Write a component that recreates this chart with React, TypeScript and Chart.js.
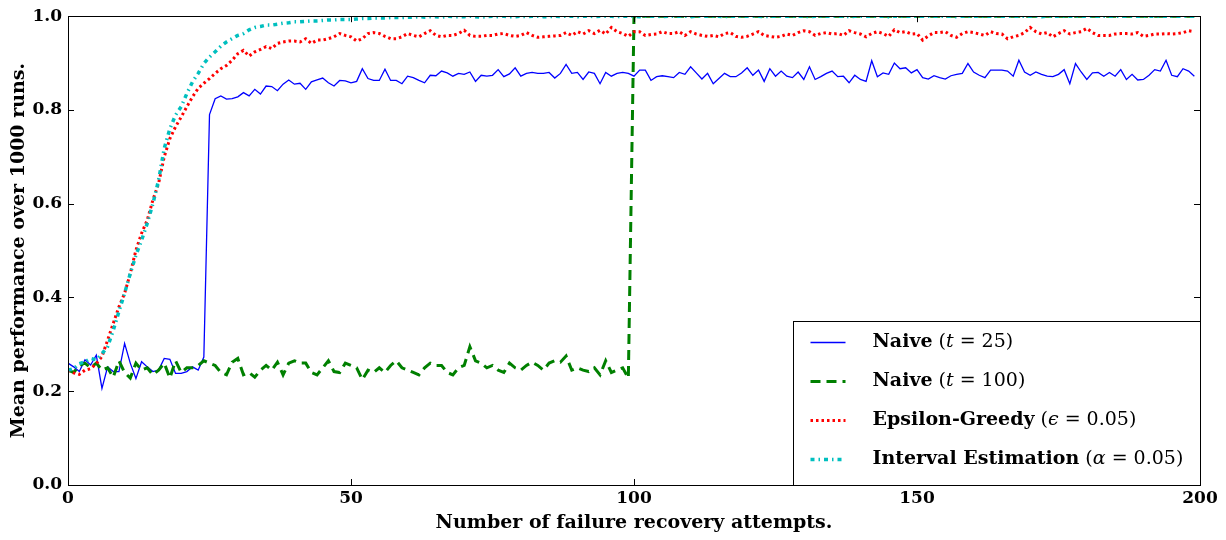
import { useEffect, useRef } from "react";
import { Chart, registerables } from "chart.js";

Chart.register(...registerables);

// ---------- data ----------
const X_TICKS = [0, 50, 100, 150, 200];
const Y_TICKS = [0, 0.2, 0.4, 0.6, 0.8, 1.0];

const X_TITLE = "Number of failure recovery attempts.";
const Y_TITLE = "Mean performance over 1000 runs.";

const SERIES_NAMES = ["Naive", "Naive", "Epsilon-Greedy", "Interval Estimation"];
const SERIES_SYMBOLS = ["t", "t", "\u03F5", "\u03B1"];
const SERIES_PARAMS = ["25", "100", "0.05", "0.05"];

const NAIVE_25 = [
  0.26, 0.252, 0.242, 0.267, 0.256, 0.277, 0.206, 0.252, 0.242, 0.242,
  0.302, 0.26, 0.227, 0.263, 0.252, 0.242, 0.245, 0.27, 0.268, 0.238,
  0.238, 0.242, 0.252, 0.245, 0.273, 0.79, 0.824, 0.83, 0.823, 0.824,
  0.828, 0.837, 0.83, 0.844, 0.834, 0.851, 0.85, 0.841, 0.855, 0.864,
  0.855, 0.857, 0.844, 0.86, 0.864, 0.868, 0.858, 0.851, 0.863, 0.862,
  0.858, 0.861, 0.888, 0.867, 0.863, 0.863, 0.887, 0.863, 0.863, 0.856,
  0.872, 0.869, 0.863, 0.858, 0.874, 0.873, 0.883, 0.879, 0.872, 0.878,
  0.876, 0.881, 0.861, 0.874, 0.872, 0.874, 0.886, 0.871, 0.877, 0.89,
  0.872, 0.878, 0.88, 0.878, 0.878, 0.88, 0.868, 0.878, 0.897, 0.878,
  0.88, 0.865, 0.881, 0.878, 0.856, 0.88, 0.872, 0.878, 0.88, 0.878,
  0.872, 0.885, 0.885, 0.863, 0.871, 0.873, 0.871, 0.869, 0.88, 0.876,
  0.892, 0.879, 0.866, 0.878, 0.856, 0.867, 0.878, 0.871, 0.871, 0.879,
  0.89, 0.874, 0.885, 0.861, 0.888, 0.872, 0.883, 0.872, 0.869, 0.881,
  0.865, 0.892, 0.865, 0.871, 0.878, 0.883, 0.871, 0.872, 0.858, 0.874,
  0.865, 0.861, 0.905, 0.871, 0.879, 0.876, 0.9, 0.888, 0.89, 0.879,
  0.886, 0.869, 0.866, 0.873, 0.869, 0.866, 0.873, 0.876, 0.878, 0.899,
  0.881, 0.874, 0.869, 0.885, 0.885, 0.885, 0.883, 0.872, 0.906, 0.881,
  0.874, 0.881, 0.876, 0.872, 0.871, 0.876, 0.886, 0.856, 0.899, 0.881,
  0.865, 0.879, 0.88, 0.872, 0.88, 0.872, 0.886, 0.865, 0.876, 0.864,
  0.865, 0.874, 0.886, 0.883, 0.906, 0.874, 0.871, 0.888, 0.883, 0.872,
];

const NAIVE_100 = [
  0.245, 0.24, 0.255, 0.26, 0.25, 0.26, 0.245, 0.25, 0.23, 0.265,
  0.24, 0.228, 0.26, 0.245, 0.25, 0.235, 0.245, 0.26, 0.228, 0.265,
  0.24, 0.25, 0.25, 0.255, 0.265, 0.26, 0.255, 0.24, 0.235, 0.262,
  0.27, 0.235, 0.24, 0.23, 0.245, 0.255, 0.245, 0.262, 0.235, 0.26,
  0.265, 0.26, 0.26, 0.24, 0.235, 0.25, 0.265, 0.242, 0.24, 0.26,
  0.255, 0.25, 0.225, 0.245, 0.24, 0.25, 0.24, 0.255, 0.265, 0.25,
  0.245, 0.24, 0.235, 0.25, 0.26, 0.255, 0.255, 0.24, 0.235, 0.25,
  0.255, 0.295, 0.265, 0.26, 0.25, 0.255, 0.245, 0.24, 0.26, 0.25,
  0.245, 0.255, 0.262, 0.255, 0.245, 0.26, 0.265, 0.262, 0.275, 0.245,
  0.25, 0.245, 0.242, 0.25, 0.235, 0.265, 0.24, 0.245, 0.25, 0.228,
  1, 1, 1, 1, 1, 1, 1, 1, 1, 1,
  1, 1, 1, 1, 1, 1, 1, 1, 1, 1,
  1, 1, 1, 1, 1, 1, 1, 1, 1, 1,
  1, 1, 1, 1, 1, 1, 1, 1, 1, 1,
  1, 1, 1, 1, 1, 1, 1, 1, 1, 1,
  1, 1, 1, 1, 1, 1, 1, 1, 1, 1,
  1, 1, 1, 1, 1, 1, 1, 1, 1, 1,
  1, 1, 1, 1, 1, 1, 1, 1, 1, 1,
  1, 1, 1, 1, 1, 1, 1, 1, 1, 1,
  1, 1, 1, 1, 1, 1, 1, 1, 1, 1,
];

const EPSILON_GREEDY = [
  0.245, 0.239, 0.236, 0.245, 0.248, 0.259, 0.274, 0.309, 0.345, 0.38,
  0.409, 0.451, 0.501, 0.537, 0.565, 0.608, 0.643, 0.7, 0.739, 0.764,
  0.785, 0.807, 0.828, 0.846, 0.857, 0.867, 0.878, 0.888, 0.895, 0.906,
  0.92, 0.927, 0.915, 0.924, 0.929, 0.935, 0.931, 0.942, 0.945, 0.947,
  0.947, 0.945, 0.952, 0.942, 0.949, 0.949, 0.952, 0.956, 0.963, 0.959,
  0.956, 0.947, 0.952, 0.963, 0.965, 0.963, 0.957, 0.952, 0.952, 0.956,
  0.963, 0.959, 0.956, 0.963, 0.969, 0.959, 0.956, 0.959, 0.959, 0.963,
  0.97, 0.959, 0.957, 0.957, 0.959, 0.959, 0.962, 0.963, 0.959, 0.957,
  0.959, 0.965, 0.959, 0.955, 0.956, 0.957, 0.958, 0.959, 0.965, 0.959,
  0.967, 0.962, 0.969, 0.963, 0.97, 0.962, 0.976, 0.967, 0.963, 0.957,
  0.967, 0.967, 0.959, 0.961, 0.962, 0.967, 0.963, 0.963, 0.967, 0.959,
  0.967, 0.962, 0.959, 0.957, 0.959, 0.956, 0.963, 0.965, 0.957, 0.955,
  0.957, 0.962, 0.967, 0.959, 0.957, 0.955, 0.957, 0.962, 0.959, 0.965,
  0.969, 0.967, 0.959, 0.963, 0.965, 0.962, 0.963, 0.959, 0.969, 0.965,
  0.962, 0.956, 0.963, 0.967, 0.963, 0.957, 0.971, 0.965, 0.967, 0.962,
  0.963, 0.949, 0.958, 0.965, 0.965, 0.967, 0.959, 0.955, 0.963, 0.967,
  0.965, 0.962, 0.959, 0.967, 0.963, 0.962, 0.952, 0.956, 0.959, 0.965,
  0.976, 0.967, 0.962, 0.965, 0.956, 0.963, 0.969, 0.962, 0.965, 0.967,
  0.974, 0.965, 0.959, 0.959, 0.959, 0.962, 0.963, 0.963, 0.962, 0.965,
  0.957, 0.959, 0.962, 0.962, 0.963, 0.962, 0.963, 0.965, 0.969, 0.967,
];

const INTERVAL_ESTIMATION = [
  0.245, 0.248, 0.259, 0.263, 0.27, 0.267, 0.28, 0.295, 0.33, 0.37,
  0.409, 0.451, 0.49, 0.522, 0.558, 0.6, 0.65, 0.718, 0.76, 0.789,
  0.807, 0.835, 0.86, 0.878, 0.899, 0.913, 0.924, 0.936, 0.945, 0.952,
  0.959, 0.963, 0.971, 0.976, 0.978, 0.981, 0.981, 0.983, 0.985, 0.986,
  0.988, 0.988, 0.989, 0.99, 0.99, 0.991, 0.992, 0.992, 0.993, 0.993,
  0.993, 0.994, 0.995, 0.995, 0.996, 0.996, 0.996, 0.997, 0.997, 0.997,
  0.998, 0.998, 0.999, 0.998, 0.999, 0.999, 0.998, 1, 0.999, 0.999,
  0.999, 1, 0.999, 0.998, 0.999, 1, 0.999, 1, 0.999, 0.999,
  1, 0.999, 1, 1, 0.999, 0.999, 1, 0.999, 1, 1,
  0.999, 1, 1, 0.999, 1, 1, 1, 0.999, 1, 1,
  1, 0.999, 1, 1, 1, 0.999, 1, 1, 1, 1,
  0.999, 1, 1, 1, 1, 1, 0.999, 1, 1, 1,
  1, 1, 1, 0.999, 1, 1, 1, 1, 1, 1,
  1, 0.999, 1, 1, 1, 1, 1, 1, 0.999, 1,
  1, 1, 1, 1, 1, 0.999, 1, 1, 1, 1,
  1, 1, 1, 1, 1, 1, 1, 0.999, 1, 1,
  1, 1, 1, 1, 1, 1, 1, 1, 1, 1,
  1, 1, 0.999, 1, 1, 1, 1, 1, 1, 1,
  1, 1, 1, 1, 1, 1, 1, 1, 1, 1,
  1, 1, 1, 1, 1, 1, 1, 1, 1, 1,
];

// ---------- styles ----------
const FAMILY = '"DejaVu Serif", serif';
const SERIES_STYLES = [
  { color: "#0000ff", width: 1.3, dash: [] as number[] },
  { color: "#008000", width: 3, dash: [10, 6] },
  { color: "#ff0000", width: 3, dash: [2.5, 3] },
  { color: "#00bfbf", width: 3.5, dash: [4, 4, 1.5, 4] },
];

const toPoints = (values: number[]) => values.map((y, i) => ({ x: i, y }));

const frameTicksPlugin = {
  id: "frameTicks",
  afterDatasetsDraw(chart: any) {
    const { ctx, chartArea, scales } = chart;
    const { left, right, top, bottom } = chartArea;
    ctx.save();
    ctx.strokeStyle = "#000";
    ctx.lineWidth = 1;
    ctx.setLineDash([]);
    ctx.beginPath();
    for (const t of X_TICKS) {
      const px = Math.round(scales.x.getPixelForValue(t)) + 0.5;
      ctx.moveTo(px, bottom);
      ctx.lineTo(px, bottom - 6);
      ctx.moveTo(px, top);
      ctx.lineTo(px, top + 6);
    }
    for (const t of Y_TICKS) {
      const py = Math.round(scales.y.getPixelForValue(t)) + 0.5;
      ctx.moveTo(left, py);
      ctx.lineTo(left + 6, py);
      ctx.moveTo(right, py);
      ctx.lineTo(right - 6, py);
    }
    ctx.stroke();
    ctx.strokeRect(Math.round(left) + 0.5, Math.round(top) + 0.5, Math.round(right - left), Math.round(bottom - top));
    ctx.restore();
  },
};

const legendPlugin = {
  id: "insetLegend",
  afterDraw(chart: any) {
    const { ctx, chartArea } = chart;
    const boxW = 407;
    const boxH = 164;
    const bx = Math.round(chartArea.right - boxW) + 0.5;
    const by = Math.round(chartArea.bottom - boxH) + 0.5;
    ctx.save();
    ctx.fillStyle = "#fff";
    ctx.fillRect(bx, by, boxW, boxH);
    ctx.strokeStyle = "#000";
    ctx.lineWidth = 1;
    ctx.setLineDash([]);
    ctx.strokeRect(bx, by, boxW, boxH);
    const size = 19;
    for (let i = 0; i < SERIES_NAMES.length; i++) {
      const yRow = by + 21 + i * 39;
      const st = SERIES_STYLES[i];
      ctx.beginPath();
      ctx.strokeStyle = st.color;
      ctx.lineWidth = st.width;
      ctx.setLineDash(st.dash);
      ctx.moveTo(bx + 17, yRow);
      ctx.lineTo(bx + 52, yRow);
      ctx.stroke();
      ctx.setLineDash([]);
      ctx.fillStyle = "#000";
      ctx.textBaseline = "middle";
      ctx.textAlign = "left";
      let x = bx + 79;
      const parts: [string, string][] = [
        [SERIES_NAMES[i], `bold ${size}px ${FAMILY}`],
        [" (", `normal ${size}px ${FAMILY}`],
        [SERIES_SYMBOLS[i], `italic ${size}px ${FAMILY}`],
        [" = ", `normal ${size}px ${FAMILY}`],
        [SERIES_PARAMS[i] + ")", `normal ${size}px ${FAMILY}`],
      ];
      for (const [txt, font] of parts) {
        ctx.font = font;
        ctx.fillText(txt, x, yRow);
        x += ctx.measureText(txt).width;
      }
    }
    ctx.restore();
  },
};

export default function App() {
  const canvasRef = useRef<HTMLCanvasElement | null>(null);

  useEffect(() => {
    if (!canvasRef.current) return;
    const allSeries = [NAIVE_25, NAIVE_100, EPSILON_GREEDY, INTERVAL_ESTIMATION];
    const datasets = allSeries.map((vals, i) => ({
      label: `${SERIES_NAMES[i]} (${SERIES_SYMBOLS[i]}=${SERIES_PARAMS[i]})`,
      data: toPoints(vals),
      borderColor: SERIES_STYLES[i].color,
      borderWidth: SERIES_STYLES[i].width,
      borderDash: SERIES_STYLES[i].dash,
      borderCapStyle: "butt" as const,
      pointRadius: 0,
      fill: false,
      tension: 0,
      order: 4 - i,
    }));
    const tickFont = { family: FAMILY, size: 17, weight: "bold" as const };
    const titleFont = { family: FAMILY, size: 19, weight: "bold" as const };
    const chart = new Chart(canvasRef.current, {
      type: "line",
      data: { datasets },
      options: {
        responsive: false,
        animation: false,
        layout: { padding: { top: 16, right: 26, left: 0, bottom: 0 } },
        plugins: { legend: { display: false }, tooltip: { enabled: false } },
        scales: {
          x: {
            type: "linear",
            min: 0,
            max: 200,
            afterFit: (s: any) => {
              s.height = 55;
            },
            afterBuildTicks: (s: any) => {
              s.ticks = X_TICKS.map((v) => ({ value: v }));
            },
            grid: { display: false, drawTicks: false },
            border: { display: false },
            ticks: { color: "#000", font: tickFont, padding: 3, maxRotation: 0, callback: (v: any) => String(v) },
            title: { display: true, text: X_TITLE, color: "#000", font: titleFont, padding: { top: 0, bottom: 6 } },
          },
          y: {
            type: "linear",
            min: 0,
            max: 1,
            afterFit: (s: any) => {
              s.width = 68;
            },
            afterBuildTicks: (s: any) => {
              s.ticks = Y_TICKS.map((v) => ({ value: v }));
            },
            grid: { display: false, drawTicks: false },
            border: { display: false },
            ticks: { color: "#000", font: tickFont, padding: 6, callback: (v: any) => Number(v).toFixed(1) },
            title: { display: true, text: Y_TITLE, color: "#000", font: titleFont, padding: { top: 8, bottom: 0 } },
          },
        },
      },
      plugins: [frameTicksPlugin, legendPlugin],
    });
    return () => chart.destroy();
  }, []);

  return (
    <div style={{ position: "fixed", left: 0, top: 0, width: 1226, height: 540, background: "#fff" }}>
      <canvas ref={canvasRef} width={1226} height={540} style={{ display: "block" }} />
    </div>
  );
}
